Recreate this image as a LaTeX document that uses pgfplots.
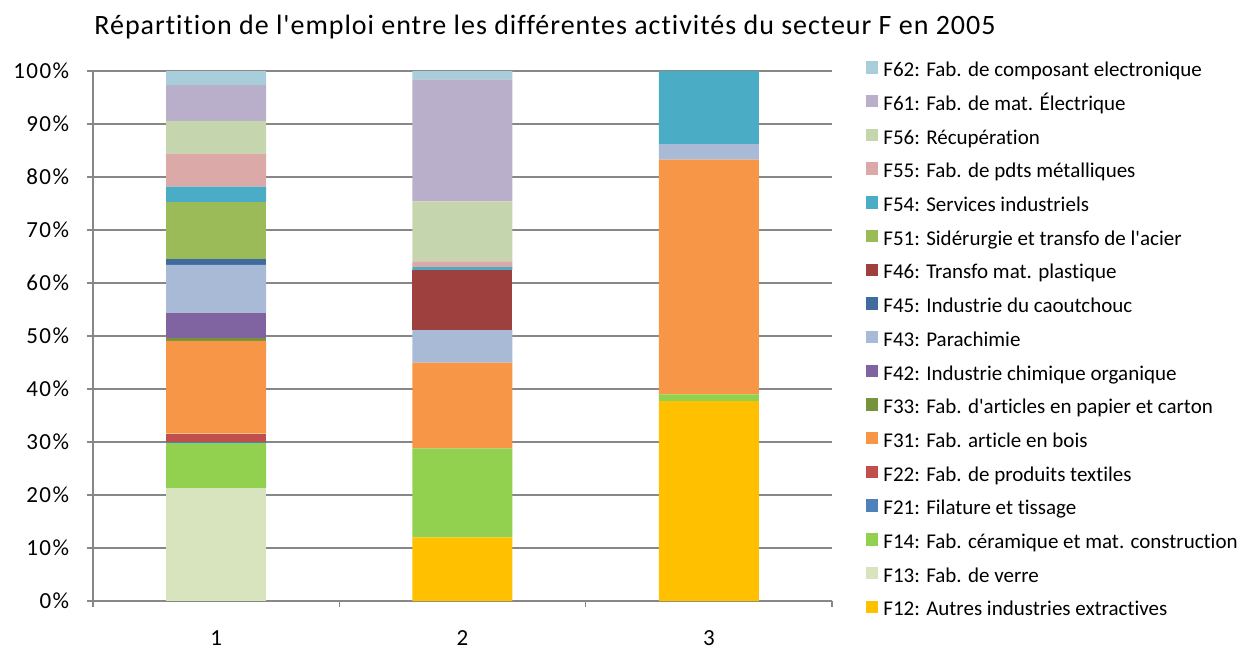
\documentclass[border=0pt]{standalone}
\usepackage{fontspec}
\setmainfont{Carlito}[Ligatures={TeXOff,CommonOff}]
\newfontfamily\tickfont{Carlito}[Ligatures={TeXOff,CommonOff},LetterSpace=6]
\newfontfamily\titlefont{Carlito}[Ligatures={TeXOff,CommonOff},LetterSpace=3.5]
\usepackage{pgfplots}
\pgfplotsset{compat=1.18}
\definecolor{cF12}{HTML}{FFC000}
\definecolor{cF13}{HTML}{D8E4BD}
\definecolor{cF14}{HTML}{92D050}
\definecolor{cF21}{HTML}{4F81BD}
\definecolor{cF22}{HTML}{C0504D}
\definecolor{cF31}{HTML}{F79646}
\definecolor{cF33}{HTML}{77933C}
\definecolor{cF42}{HTML}{8064A2}
\definecolor{cF43}{HTML}{A9BAD7}
\definecolor{cF45}{HTML}{3F6B9F}
\definecolor{cF46}{HTML}{9E413E}
\definecolor{cF51}{HTML}{9BBB59}
\definecolor{cF54}{HTML}{4BACC6}
\definecolor{cF55}{HTML}{DAA9A8}
\definecolor{cF56}{HTML}{C5D5AD}
\definecolor{cF61}{HTML}{B9AFCA}
\definecolor{cF62}{HTML}{A8CEDB}
\definecolor{axisgrey}{HTML}{878787}
\begin{document}
\begin{tikzpicture}[x=1pt,y=1pt]
\begin{axis}[
  at={(0,0)}, anchor=south west,
  scale only axis, width=369.5pt, height=265pt,
  ybar stacked, bar width=50pt,
  xmin=0.5, xmax=3.5, ymin=0, ymax=100,
  xtick={1,2,3}, xticklabels={1,2,3},
  minor xtick={0.5,1.5,2.5,3.5},
  major x tick style={draw=none},
  minor tick length=3pt,
  major tick length=3pt,
  tick align=outside,
  ytick={0,10,...,100},
  yticklabel={\pgfmathprintnumber{\tick}\%},
  /pgf/number format/assume math mode=true,
  axis x line*=bottom, axis y line*=left,
  axis line style={axisgrey, line width=0.75pt},
  tick style={axisgrey, line width=0.75pt},
  ymajorgrids, grid style={axisgrey, line width=0.7pt},
  tick label style={font=\tickfont\fontsize{11.5}{13}\selectfont},
  yticklabel style={anchor=east, inner sep=0pt, xshift=-8.8pt},
  xticklabel style={anchor=north, inner sep=0pt, yshift=-11.5pt},
  legend style={at={(axis description cs:1.046,1.0189)}, anchor=north west, draw=none, fill=none,
    inner sep=0pt, row sep=7.15pt, column sep=2.5pt,
    nodes={inner sep=0pt, text height=7pt, text depth=2pt},
    font=\fontsize{10.5}{12}\selectfont},
  legend cell align=left,
  reverse legend,
  legend image code/.code={\fill[#1] (0pt,-1pt) rectangle (6pt,5.2pt);},
]
\addplot[fill=cF12, draw=none] coordinates {(1,0) (2,12.0) (3,37.7)};
\addlegendentry{F12: Autres industries extractives}
\addplot[fill=cF13, draw=none] coordinates {(1,21.3) (2,0) (3,0)};
\addlegendentry{F13: Fab. de verre}
\addplot[fill=cF14, draw=none] coordinates {(1,8.5) (2,16.8) (3,1.3)};
\addlegendentry{F14: Fab. céramique et mat. construction}
\addplot[fill=cF21, draw=none] coordinates {(1,0.2) (2,0) (3,0)};
\addlegendentry{F21: Filature et tissage}
\addplot[fill=cF22, draw=none] coordinates {(1,1.6) (2,0) (3,0)};
\addlegendentry{F22: Fab. de produits textiles}
\addplot[fill=cF31, draw=none] coordinates {(1,17.5) (2,16.2) (3,44.3)};
\addlegendentry{F31: Fab. article en bois}
\addplot[fill=cF33, draw=none] coordinates {(1,0.6) (2,0) (3,0)};
\addlegendentry{F33: Fab. d'articles en papier et carton}
\addplot[fill=cF42, draw=none] coordinates {(1,4.6) (2,0) (3,0)};
\addlegendentry{F42: Industrie chimique organique}
\addplot[fill=cF43, draw=none] coordinates {(1,9.1) (2,6.1) (3,2.9)};
\addlegendentry{F43: Parachimie}
\addplot[fill=cF45, draw=none] coordinates {(1,1.1) (2,0) (3,0)};
\addlegendentry{F45: Industrie du caoutchouc}
\addplot[fill=cF46, draw=none] coordinates {(1,0) (2,11.4) (3,0)};
\addlegendentry{F46: Transfo mat. plastique}
\addplot[fill=cF51, draw=none] coordinates {(1,10.7) (2,0) (3,0)};
\addlegendentry{F51: Sidérurgie et transfo de l'acier}
\addplot[fill=cF54, draw=none] coordinates {(1,3.0) (2,0.5) (3,13.8)};
\addlegendentry{F54: Services industriels}
\addplot[fill=cF55, draw=none] coordinates {(1,6.2) (2,1.1) (3,0)};
\addlegendentry{F55: Fab. de pdts métalliques}
\addplot[fill=cF56, draw=none] coordinates {(1,6.2) (2,11.3) (3,0)};
\addlegendentry{F56: Récupération}
\addplot[fill=cF61, draw=none] coordinates {(1,6.8) (2,23.0) (3,0)};
\addlegendentry{F61: Fab. de mat. Électrique}
\addplot[fill=cF62, draw=none] coordinates {(1,2.6) (2,1.6) (3,0)};
\addlegendentry{F62: Fab. de composant electronique}
\end{axis}
\node[anchor=base, font=\titlefont\fontsize{14}{16}\selectfont] at (226,283.3) {Répartition de l'emploi entre les différentes activités du secteur F en 2005};
\pgfresetboundingbox
\useasboundingbox (-46.5,-24.5) rectangle (573,300.5);
\end{tikzpicture}
\end{document}
